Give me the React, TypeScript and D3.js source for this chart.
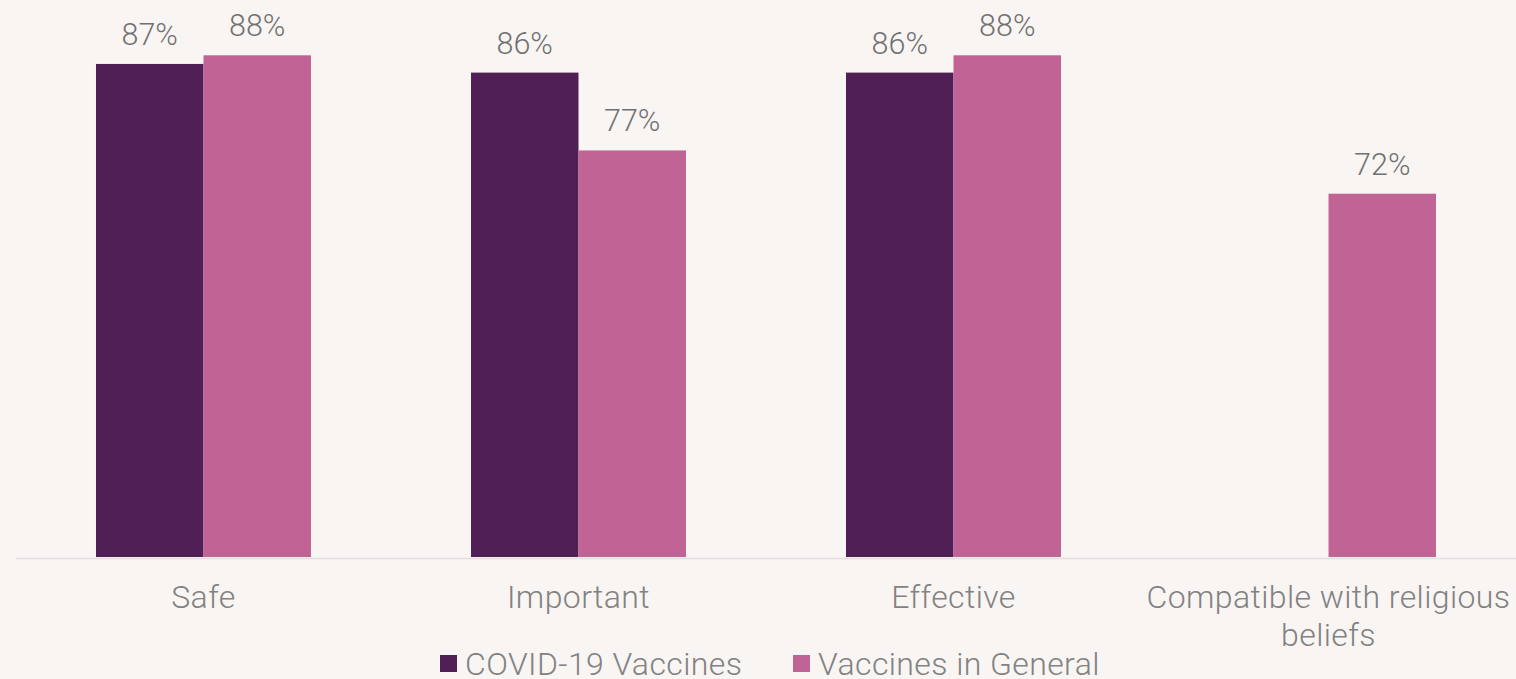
import React from "react";
import * as d3 from "d3";

// Share of respondents agreeing that vaccines are ...
const categories = ["Safe", "Important", "Effective", "Compatible with religious beliefs"];
const seriesNames = ["COVID-19 Vaccines", "Vaccines in General"];
const covidValues: (number | null)[] = [87, 86, 86, null];
const generalValues: (number | null)[] = [88, 77, 88, 72];
const seriesColors = ["#501f55", "#c06496"];

const W = 1516;
const H = 679;
const BG = "#f9f5f3";
const FONT = "Roboto, 'Open Sans', sans-serif";

function wrapLabel(text: string, maxChars: number): string[] {
  const words = text.split(" ");
  const lines: string[] = [];
  let cur = "";
  for (const w of words) {
    const next = cur ? cur + " " + w : w;
    if (next.length > maxChars && cur) {
      lines.push(cur);
      cur = w;
    } else cur = next;
  }
  if (cur) lines.push(cur);
  return lines;
}

export default function App() {
  const plotLeft = 16;
  const plotRight = 1516;
  const baseline = 557;

  const x0 = d3
    .scaleBand<string>()
    .domain(categories)
    .range([plotLeft, plotRight])
    .paddingInner(0.4267)
    .paddingOuter(0.2133);
  const x1 = d3
    .scaleBand<string>()
    .domain(seriesNames)
    .range([0, x0.bandwidth()]);
  const y = d3.scaleLinear().domain([30, 90]).range([baseline, 38]);

  const series = [covidValues, generalValues];

  return (
    <div style={{ width: W, height: H, background: BG, overflow: "hidden" }}>
      <style>{`html, body { margin: 0; padding: 0; background: ${BG}; overflow: hidden; }`}</style>
      <svg width={W} height={H} style={{ display: "block" }}>
        <rect x={0} y={0} width={W} height={H} fill={BG} />
        {/* axis line */}
        <line
          x1={plotLeft}
          x2={plotRight}
          y1={baseline + 1.5}
          y2={baseline + 1.5}
          stroke="#e3dfdf"
          strokeWidth={1.5}
        />
        {categories.map((cat, ci) => (
          <g key={cat} transform={`translate(${x0(cat)},0)`}>
            {series.map((vals, si) => {
              const v = vals[ci];
              if (v == null) return null;
              const bx = x1(seriesNames[si])!;
              const bw = x1.bandwidth();
              return (
                <g key={si}>
                  <rect
                    x={bx}
                    y={y(v)}
                    width={bw}
                    height={baseline - y(v)}
                    fill={seriesColors[si]}
                  />
                  <text
                    x={bx + bw / 2}
                    y={y(v) - 19}
                    textAnchor="middle"
                    fontFamily={FONT}
                    fontWeight={300}
                    fontSize={30.5}
                    fill="#717171"
                  >
                    {v}%
                  </text>
                </g>
              );
            })}
          </g>
        ))}
        {/* category labels */}
        {categories.map((cat) => {
          const lines = wrapLabel(cat, 26);
          const cx = x0(cat)! + x0.bandwidth() / 2;
          return (
            <text
              key={cat}
              x={cx}
              y={608}
              textAnchor="middle"
              fontFamily={FONT}
              fontWeight={300}
              fontSize={32}
              letterSpacing={0.4}
              fill="#828282"
            >
              {lines.map((l, i) => (
                <tspan key={i} x={cx} dy={i === 0 ? 0 : 38}>
                  {l}
                </tspan>
              ))}
            </text>
          );
        })}
        {/* legend */}
        {seriesNames.map((name, i) => {
          const lx = [440, 793][i];
          return (
            <g key={name}>
              <rect x={lx} y={655} width={17} height={17} fill={seriesColors[i]} />
              <text
                x={lx + 25}
                y={675}
                fontFamily={FONT}
                fontWeight={300}
                fontSize={32}
                letterSpacing={0.4}
                fill="#828282"
              >
                {name}
              </text>
            </g>
          );
        })}
      </svg>
    </div>
  );
}
